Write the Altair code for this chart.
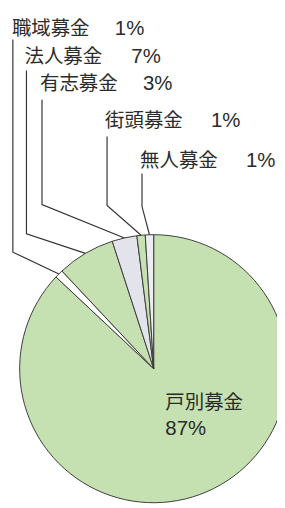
import math
import altair as alt
import pandas as pd

# data
categories = ["戸別募金", "職域募金", "法人募金", "有志募金", "街頭募金", "無人募金"]
shares = [87, 1, 7, 3, 1, 1]
colors = ["#c6e1b1", "#ffffff", "#c6e1b1", "#e3e3ec", "#c6e1b1", "#ececf2"]

# layout (chart pixel coords)
W, H = 277, 500
CX, CY, R = 150, 364, 138
label_x = [162, 4, 17, 33, 100, 136]
label_y = [399, 14, 43.5, 71, 109, 150]
pct_x = [162, 110, 127, 139, 209, 245]
pct_y = [426, 14, 43.5, 71, 109, 150]
lead_x = [None, 5, 19, 35, 102, 138]
lead_top = [None, 25, 57, 87, 125, 163]
lead_bend = [None, 244, 225, 195, 196, 197]

pie_df = pd.DataFrame({"cat": categories, "v": shares, "o": list(range(len(shares)))})

total = sum(shares)
cum = 0
rows = []
for i, (c, v) in enumerate(zip(categories, shares)):
    mid = (cum + v / 2) / total * 2 * math.pi
    cum += v
    if lead_x[i] is None:
        continue
    ex = CX + R * math.sin(mid)
    ey = CY - R * math.cos(mid)
    rows += [
        {"cat": c, "k": 0, "x": lead_x[i], "y": lead_top[i]},
        {"cat": c, "k": 1, "x": lead_x[i], "y": lead_bend[i]},
        {"cat": c, "k": 2, "x": ex, "y": ey},
    ]
lead_df = pd.DataFrame(rows)

lab_df = pd.DataFrame({
    "name": categories,
    "pct": [f"{v}%" for v in shares],
    "nx": label_x, "ny": label_y, "px": pct_x, "py": pct_y,
})

xs = alt.Scale(domain=[0, W], nice=False, zero=False)
ys = alt.Scale(domain=[0, H], nice=False, zero=False, reverse=True)

pie = alt.Chart(pie_df).mark_arc(stroke="#3a3a3a", strokeWidth=1).encode(
    theta=alt.Theta("v:Q", stack=True),
    color=alt.Color("cat:N", scale=alt.Scale(domain=categories, range=colors), legend=None),
    order=alt.Order("o:Q"),
    radius=alt.value(R),
    x=alt.value(CX),
    y=alt.value(CY),
)

leads = alt.Chart(lead_df).mark_line(color="#333333", strokeWidth=1.2).encode(
    x=alt.X("x:Q", scale=xs, axis=None),
    y=alt.Y("y:Q", scale=ys, axis=None),
    detail="cat:N",
    order="k:Q",
)

names = alt.Chart(lab_df).mark_text(
    align="left", baseline="middle", font="Noto Sans CJK JP", fontSize=20, color="#2b2b2b"
).encode(
    x=alt.X("nx:Q", scale=xs, axis=None),
    y=alt.Y("ny:Q", scale=ys, axis=None),
    text="name:N",
)

pcts = alt.Chart(lab_df).mark_text(
    align="left", baseline="middle", font="Liberation Sans", fontSize=21, color="#2b2b2b"
).encode(
    x=alt.X("px:Q", scale=xs, axis=None),
    y=alt.Y("py:Q", scale=ys, axis=None),
    text="pct:N",
)

chart = alt.layer(pie, leads, names, pcts).properties(
    width=W, height=H, padding=0, autosize="none", background="#ffffff"
).configure_view(stroke=None)

chart.save("out.html", embed_options={"renderer": "svg", "actions": False})
